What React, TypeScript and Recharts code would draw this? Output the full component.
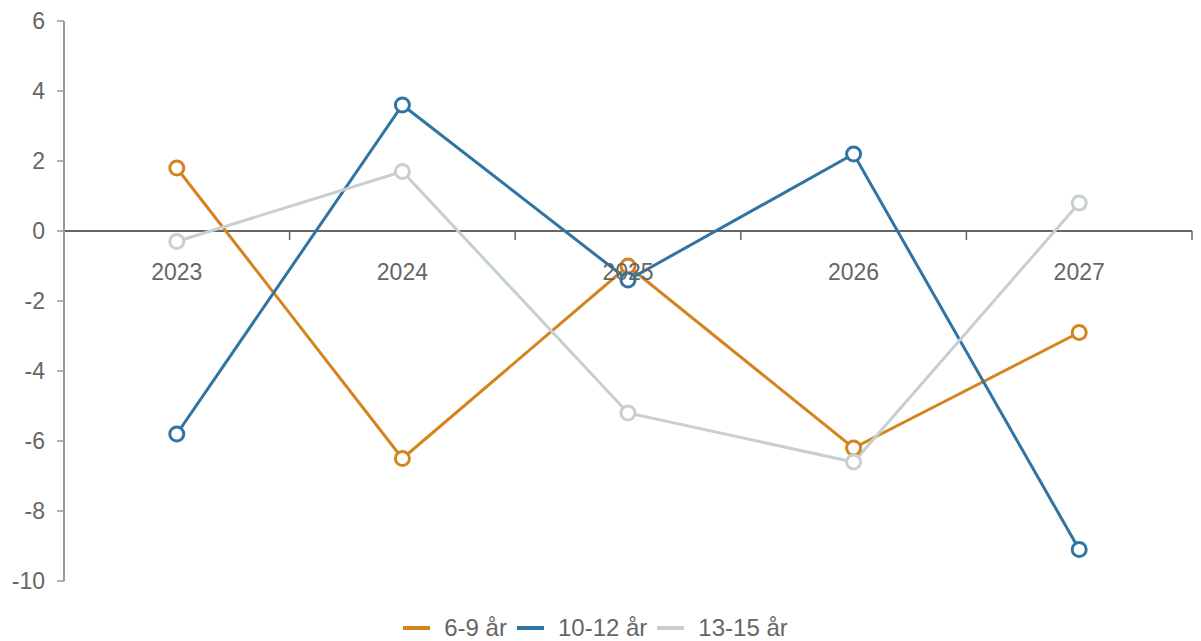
import React from 'react';
import { LineChart, Line, XAxis, YAxis, ReferenceLine, Legend } from 'recharts';

const years = ['2023', '2024', '2025', '2026', '2027'];
const age6to9 = [1.8, -6.5, -1.0, -6.2, -2.9];
const age10to12 = [-5.8, 3.6, -1.4, 2.2, -9.1];
const age13to15 = [-0.3, 1.7, -5.2, -6.6, 0.8];
const yTicks = [-10, -8, -6, -4, -2, 0, 2, 4, 6];

const series = [
  { key: 'a', name: '6-9 år', values: age6to9, color: '#d5841d' },
  { key: 'b', name: '10-12 år', values: age10to12, color: '#2f74a3' },
  { key: 'c', name: '13-15 år', values: age13to15, color: '#c6cfd1' },
];

const data = years.map((year, i) => ({
  year,
  a: age6to9[i],
  b: age10to12[i],
  c: age13to15[i],
}));

const W = 1201;
const H = 641;
const xAxisHeight = 10;
const legendHeight = 36;
const margin = { top: 21, right: 9, left: 0, bottom: 24 - xAxisHeight };
const yAxisWidth = 64;
const plotWidth = W - margin.left - margin.right - yAxisWidth;
const plotHeight = H - margin.top - margin.bottom - legendHeight - xAxisHeight;
const step = plotWidth / years.length;
const yMin = -10;
const yMax = 6;
const zeroY = margin.top + ((yMax - 0) / (yMax - yMin)) * plotHeight;
const font = '"Liberation Sans", Arial, sans-serif';
const textColor = '#666';

const YearTick = (props: any) => {
  const { x, index, payload } = props;
  const isLast = index === years.length - 1;
  return (
    <g>
      {index > 0 && (
        <line x1={x - step / 2} x2={x - step / 2} y1={zeroY} y2={zeroY + 9} stroke="#666" strokeWidth={1.5} />
      )}
      {isLast && (
        <line x1={x + step / 2} x2={x + step / 2} y1={zeroY} y2={zeroY + 9} stroke="#666" strokeWidth={1.5} />
      )}
      <text x={x} y={zeroY + 49} textAnchor="middle" fill={textColor} fontSize={23} fontFamily={font}>
        {payload.value}
      </text>
    </g>
  );
};

const LegendContent = () => (
  <div
    style={{
      display: 'flex',
      justifyContent: 'center',
      alignItems: 'center',
      fontFamily: font,
      fontSize: 24,
      color: textColor,
    }}
  >
    {series.map((s) => (
      <div key={s.key} style={{ display: 'flex', alignItems: 'center', marginRight: 10 }}>
        <svg width={27} height={6} style={{ marginRight: 14 }}>
          <line x1={0} x2={27} y1={3} y2={3} stroke={s.color} strokeWidth={4} />
        </svg>
        <span>{s.name}</span>
      </div>
    ))}
  </div>
);

export default function App() {
  return (
    <div style={{ position: 'absolute', left: 0, top: 0, background: '#fff' }}>
      <LineChart width={W} height={H} data={data} margin={margin}>
        <YAxis
          domain={[yMin, yMax]}
          ticks={yTicks}
          width={yAxisWidth}
          interval={0}
          axisLine={{ stroke: '#999', strokeWidth: 2 }}
          tickLine={{ stroke: '#999', strokeWidth: 1.5 }}
          tickSize={7}
          tickMargin={12}
          tick={{ fill: textColor, fontSize: 23, fontFamily: font }}
        />
        <XAxis
          dataKey="year"
          padding={{ left: step / 2, right: step / 2 }}
          axisLine={false}
          tickLine={false}
          interval={0}
          tick={YearTick}
          height={xAxisHeight}
        />
        <ReferenceLine y={0} stroke="#666" strokeWidth={2} />
        {series.map((s) => (
          <Line
            key={s.key}
            dataKey={s.key}
            name={s.name}
            stroke={s.color}
            strokeWidth={3}
            dot={{ r: 7, fill: '#fff', stroke: s.color, strokeWidth: 3 }}
            activeDot={false}
            isAnimationActive={false}
          />
        ))}
        <Legend
          verticalAlign="bottom"
          height={legendHeight}
          content={<LegendContent />}
          wrapperStyle={{ left: 0, width: W, top: 614 }}
        />
      </LineChart>
    </div>
  );
}
